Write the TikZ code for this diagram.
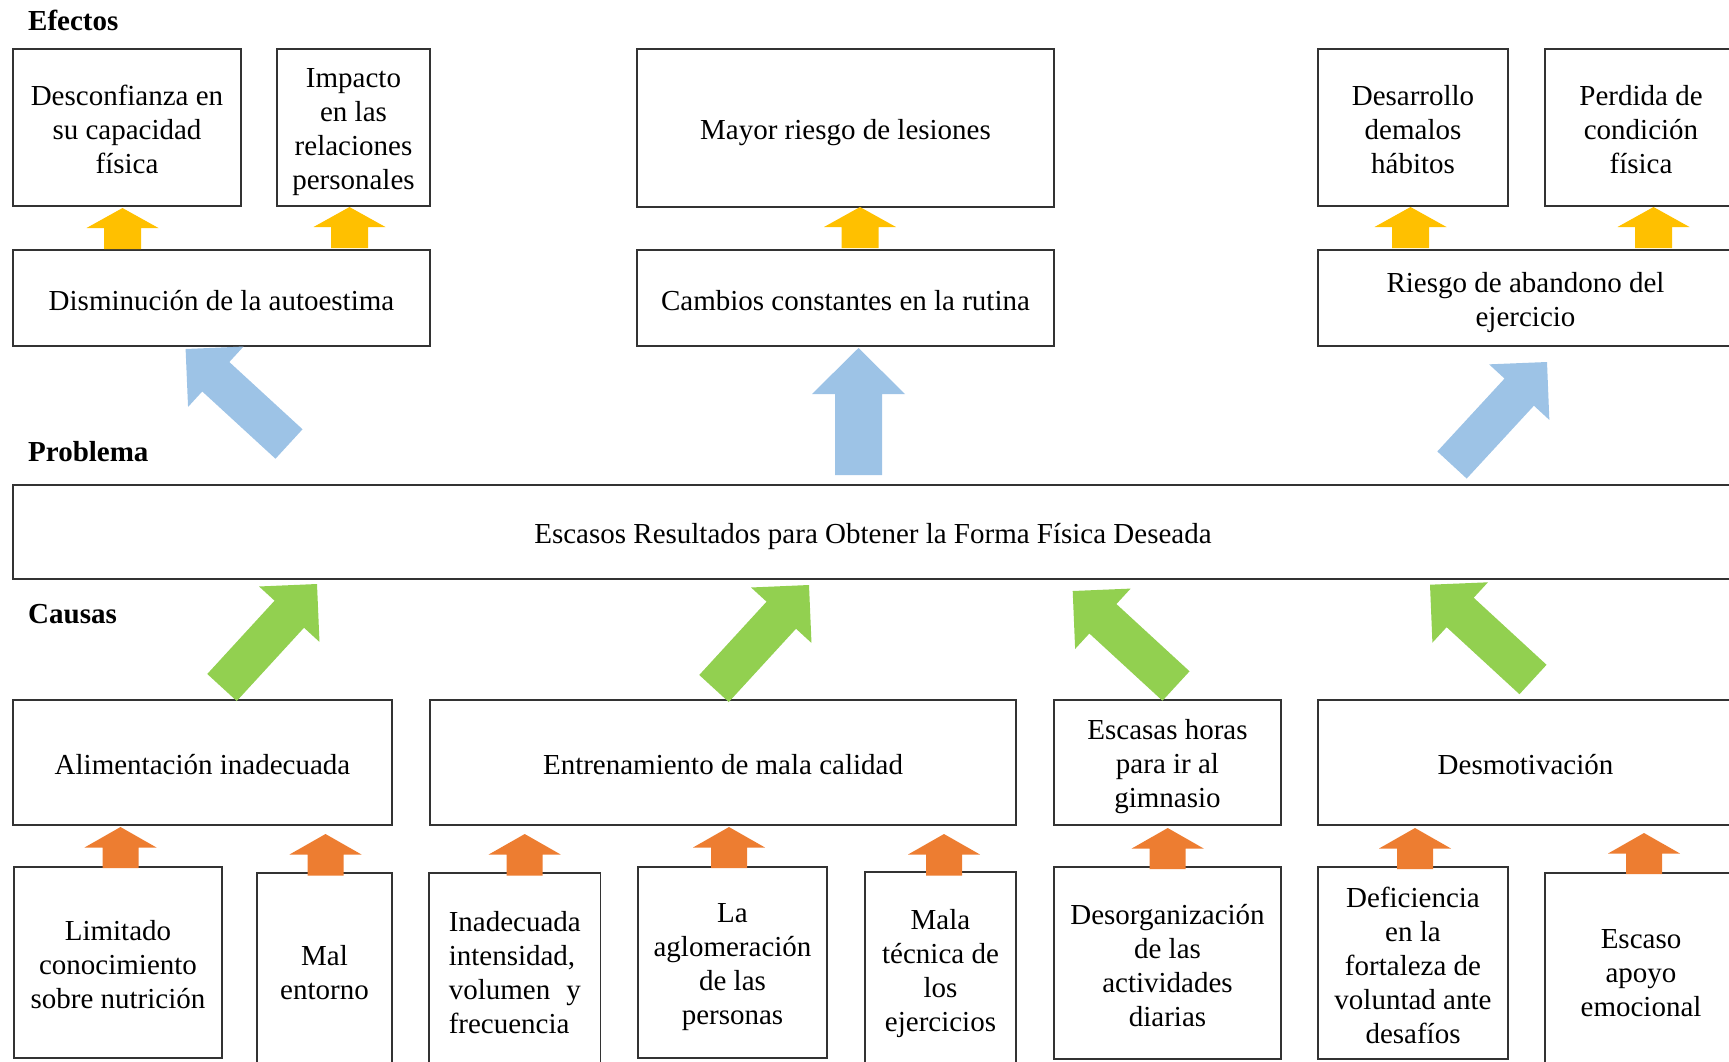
\documentclass[tikz,border=0pt]{standalone}
\usepackage{fontspec}
\setmainfont{Liberation Serif}
\usetikzlibrary{calc}
\definecolor{cyel}{HTML}{FFC000}
\definecolor{cora}{HTML}{ED7D31}
\definecolor{cblu}{HTML}{9DC3E6}
\definecolor{cgrn}{HTML}{92D050}
\newcommand\st{\rule[-5pt]{0pt}{34pt}}
\newcommand\nl{\\\st}
\newcommand\boxfont{\fontsize{29}{34}\selectfont\setlength{\lineskiplimit}{-100pt}\setlength{\lineskip}{0pt}}
% block arrow: tail, tip, shaft half width, head half width, head length, colour
\newcommand\blockarrow[6]{%
  \coordinate (ba-h) at ($(#2)!#5pt!(#1)$);
  \fill[#6] ($(#1)!#3pt!90:(#2)$) -- ($(ba-h)!#3pt!-90:(#1)$) -- ($(ba-h)!#4pt!-90:(#1)$)
    -- (#2) -- ($(ba-h)!#4pt!90:(#1)$) -- ($(ba-h)!#3pt!90:(#1)$) -- ($(#1)!#3pt!-90:(#2)$) -- cycle;
}
% box node: name, x1, y1, x2, y2, text
\newcommand\bx[6]{%
  \pgfmathsetmacro\bxcx{(#2+#4)/2}\pgfmathsetmacro\bxcy{(#3+#5)/2}%
  \pgfmathsetmacro\bxw{#4-#2}\pgfmathsetmacro\bxh{#5-#3}%
  \node[box, minimum width=\bxw pt, minimum height=\bxh pt] (#1) at (\bxcx,\bxcy) {\st #6};
}
\begin{document}
\begin{tikzpicture}[x=1pt,y=-1pt,
  box/.style={draw=black!80, line width=1.3pt, fill=white, rectangle, inner sep=0pt, outer sep=0pt,
    align=center, font=\boxfont},
  hdr/.style={anchor=west, inner sep=0pt, font=\fontsize{29}{34}\selectfont\bfseries}]
\useasboundingbox (0,0) rectangle (1729,1061);
\clip (0,0) rectangle (1729,1061);

% headers
\node[hdr] (hEf) at (28,20) {Efectos};
\node[hdr] (hPr) at (28,452) {Problema};
\node[hdr] (hCa) at (28,614) {Causas};

% effects
\bx{e1}{13}{49}{241}{206}{Desconfianza en\nl su capacidad\nl física}
\bx{e2}{277}{49}{430}{206}{Impacto\nl en las\nl relaciones\nl personales}
\bx{e3}{637}{49}{1054}{207}{Mayor riesgo de lesiones}
\bx{e4}{1318}{49}{1508}{206}{Desarrollo\nl demalos\nl hábitos}
\bx{e5}{1545}{49}{1737}{206}{Perdida de\nl condición\nl física}
\bx{m1}{13}{250}{430}{346}{Disminución de la autoestima}
\bx{m2}{637}{250}{1054}{346}{Cambios constantes en la rutina}
\bx{m3}{1318}{250}{1733}{346}{Riesgo de abandono del\nl ejercicio}

% problem
\bx{pr}{13}{485}{1733}{579}{Escasos Resultados para Obtener la Forma Física Deseada}

% causes
\bx{c1}{13}{700}{392}{825}{Alimentación inadecuada}
\bx{c2}{430}{700}{1016}{825}{Entrenamiento de mala calidad}
\bx{c3}{1054}{700}{1281}{825}{Escasas horas\nl para ir al\nl gimnasio}
\bx{c4}{1318}{700}{1733}{825}{Desmotivación}

% sub-causes
\bx{s1}{14}{867}{222}{1058}{Limitado\nl conocimiento\nl sobre nutrición}
\bx{s2}{257}{873}{392}{1067}{Mal\nl entorno}
\bx{s3}{429}{873}{600.5}{1067}{\parbox{132pt}{\setlength{\lineskiplimit}{-100pt}\setlength{\lineskip}{0pt}\raggedright\st Inadecuada\\\st intensidad,\\\st volumen\hfill y\\\st frecuencia}}
\bx{s4}{638}{867}{827}{1058}{La\nl aglomeración\nl de las\nl personas}
\bx{s5}{865}{872}{1016}{1067}{Mala\nl técnica de\nl los\nl ejercicios}
\bx{s6}{1054}{867}{1281}{1059}{Desorganización\nl de las\nl actividades\nl diarias}
\bx{s7}{1318}{867}{1508}{1059}{Deficiencia\nl en la\nl fortaleza de\nl voluntad ante\nl desafíos}
\bx{s8}{1545}{873}{1737}{1067}{Escaso\nl apoyo\nl emocional}

% arrow end points
\coordinate (y1a) at (122.5,249); \coordinate (y1b) at (122.5,208);
\coordinate (y2a) at (349.5,248); \coordinate (y2b) at (349.5,207);
\coordinate (y3a) at (860,248);   \coordinate (y3b) at (860,207);
\coordinate (y4a) at (1410.5,248); \coordinate (y4b) at (1410.5,207);
\coordinate (y5a) at (1653.5,248); \coordinate (y5b) at (1653.5,207);

\coordinate (b1a) at (289,444);   \coordinate (b1b) at (185.6,349);
\coordinate (b2a) at (858.5,475); \coordinate (b2b) at (858.5,348);
\coordinate (b3a) at (1452,465);  \coordinate (b3b) at (1547,362);

\coordinate (g1a) at (222,687.5); \coordinate (g1b) at (317,584);
\coordinate (g2a) at (714,688.5); \coordinate (g2b) at (809,585);
\coordinate (g3a) at (1176,686);  \coordinate (g3b) at (1072.7,591);
\coordinate (g4a) at (1533,679.5); \coordinate (g4b) at (1430,584.7);

\coordinate (o1a) at (120.5,868); \coordinate (o1b) at (120.5,827);
\coordinate (o2a) at (325.5,875.5); \coordinate (o2b) at (325.5,834);
\coordinate (o3a) at (524.7,875.5); \coordinate (o3b) at (524.7,834);
\coordinate (o4a) at (729,868);   \coordinate (o4b) at (729,827);
\coordinate (o5a) at (944,875.5); \coordinate (o5b) at (944,834);
\coordinate (o6a) at (1167.7,869); \coordinate (o6b) at (1167.7,828);
\coordinate (o7a) at (1415,869);  \coordinate (o7b) at (1415,828);
\coordinate (o8a) at (1644,874);  \coordinate (o8b) at (1644,833);

% arrows
\foreach \n in {y1,y2,y3,y4,y5} {\blockarrow{\n a}{\n b}{18.5}{36}{20}{cyel}}
\foreach \n in {o1,o2,o3,o4,o5,o6,o7,o8} {\blockarrow{\n a}{\n b}{18}{36}{20.5}{cora}}
\blockarrow{b1a}{b1b}{20}{41}{41}{cblu}
\blockarrow{b2a}{b2b}{23.5}{46.5}{46}{cblu}
\blockarrow{b3a}{b3b}{20}{41}{41}{cblu}
\foreach \n in {g1,g2,g3,g4} {\blockarrow{\n a}{\n b}{20}{41}{41}{cgrn}}
\end{tikzpicture}
\end{document}
